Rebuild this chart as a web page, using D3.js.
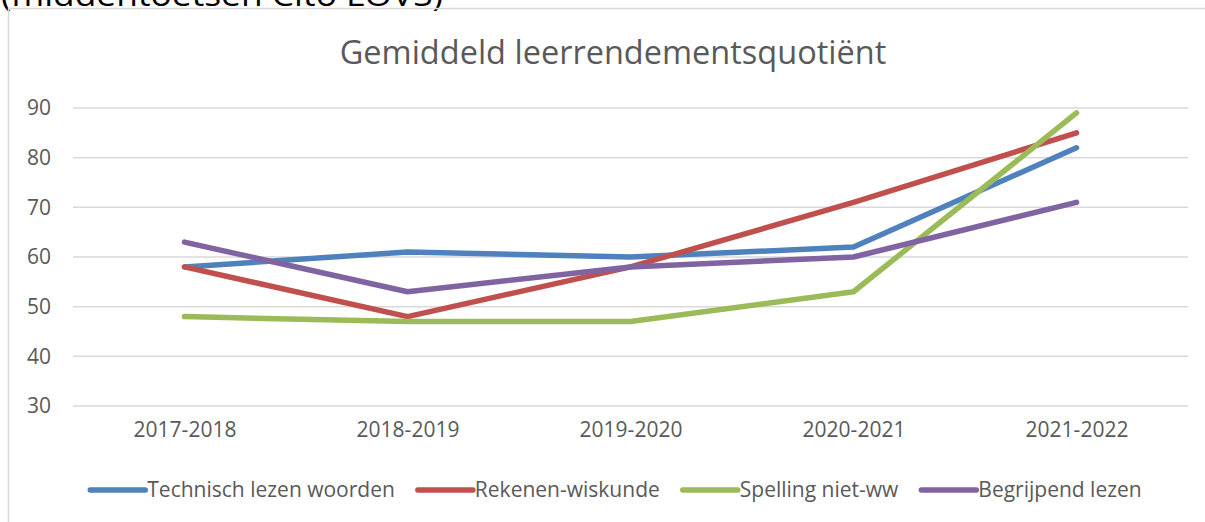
<!DOCTYPE html>
<meta charset="UTF-8">
<style>
body { margin: 0; background: #fff; }
text { font-family: "Open Sans", sans-serif; }
.grid line { stroke: #d9d9d9; stroke-width: 1.5px; }
.line { fill: none; stroke-width: 5.5px; stroke-linecap: round; stroke-linejoin: round; }
</style>
<body>
<script src="https://d3js.org/d3.v7.min.js"></script>
<script>
// data
var years = ["2017-2018", "2018-2019", "2019-2020", "2020-2021", "2021-2022"];
var technisch = [58, 61, 60, 62, 82];
var rekenen = [58, 48, 58, 71, 85];
var spelling = [48, 47, 47, 53, 89];
var begrijpend = [63, 53, 58, 60, 71];
var seriesNames = ["Technisch lezen woorden", "Rekenen-wiskunde", "Spelling niet-ww", "Begrijpend lezen"];
var colors = ["#4f81bd", "#c0504d", "#9bbb59", "#8064a2"];
var yTicks = [30, 40, 50, 60, 70, 80, 90];

var series = [technisch, rekenen, spelling, begrijpend].map(function(v, i) {
  return { name: seriesNames[i], color: colors[i], values: v };
});

var width = 1205, height = 522;
var plot = { left: 73, right: 1188, top: 108, bottom: 406 };
var labelSize = 21;

var svg = d3.select("body").append("svg")
    .attr("width", width)
    .attr("height", height);

// cut-off heading above the chart
svg.append("text")
    .attr("x", 1)
    .attr("y", 6)
    .attr("font-size", 31)
    .attr("fill", "#000")
    .attr("textLength", 442)
    .attr("lengthAdjust", "spacingAndGlyphs")
    .text("(middentoetsen Cito LOVS)");

// chart frame (runs off the right and bottom edge)
svg.append("rect")
    .attr("x", 8.5).attr("y", 8.5)
    .attr("width", 1400).attr("height", 700)
    .attr("fill", "none")
    .attr("stroke", "#d9d9d9")
    .attr("stroke-width", 1.5);

svg.append("text")
    .attr("x", 613)
    .attr("y", 64)
    .attr("text-anchor", "middle")
    .attr("font-size", 32.5)
    .attr("fill", "#595959")
    .text("Gemiddeld leerrendementsquotiënt");

var x = d3.scalePoint()
    .domain(years)
    .range([plot.left, plot.right])
    .padding(0.5);

var y = d3.scaleLinear()
    .domain([30, 90])
    .range([plot.bottom, plot.top]);

// gridlines
svg.append("g")
    .attr("class", "grid")
  .selectAll("line")
    .data(yTicks)
  .enter().append("line")
    .attr("x1", plot.left)
    .attr("x2", plot.right)
    .attr("y1", function(d) { return y(d); })
    .attr("y2", function(d) { return y(d); });

// y axis labels
var yAxis = svg.append("g")
    .attr("transform", "translate(" + 51 + ",0)")
    .call(d3.axisLeft(y).tickValues(yTicks).tickSize(0).tickPadding(0));
yAxis.select(".domain").remove();
yAxis.selectAll("text")
    .attr("font-family", "Open Sans, sans-serif")
    .attr("font-size", labelSize)
    .attr("fill", "#595959");

// x axis labels
var xAxis = svg.append("g")
    .attr("transform", "translate(0," + 422 + ")")
    .call(d3.axisBottom(x).tickSize(0).tickPadding(0));
xAxis.select(".domain").remove();
xAxis.selectAll("text")
    .attr("font-family", "Open Sans, sans-serif")
    .attr("font-size", labelSize)
    .attr("fill", "#595959");

var line = d3.line()
    .x(function(d, i) { return x(years[i]); })
    .y(function(d) { return y(d); });

svg.selectAll(".line")
    .data(series)
  .enter().append("path")
    .attr("class", "line")
    .attr("stroke", function(d) { return d.color; })
    .attr("d", function(d) { return line(d.values); });

// legend, centred under the chart
var legend = svg.append("g");
var items = legend.selectAll("g")
    .data(series)
  .enter().append("g");
items.append("line")
    .attr("x1", 0).attr("x2", 55)
    .attr("y1", 0).attr("y2", 0)
    .attr("stroke", function(d) { return d.color; })
    .attr("stroke-width", 5.5)
    .attr("stroke-linecap", "round");
items.append("text")
    .attr("x", 57)
    .attr("dy", "0.35em")
    .attr("font-size", labelSize)
    .attr("fill", "#595959")
    .text(function(d) { return d.name; });

var pos = 0;
items.each(function() {
  var g = d3.select(this);
  g.attr("transform", "translate(" + pos + ",0)");
  pos += 57 + g.select("text").node().getComputedTextLength() + 23;
});
pos -= 23;
legend.attr("transform", "translate(" + (616 - pos / 2) + "," + 490 + ")");
</script>
</body>
